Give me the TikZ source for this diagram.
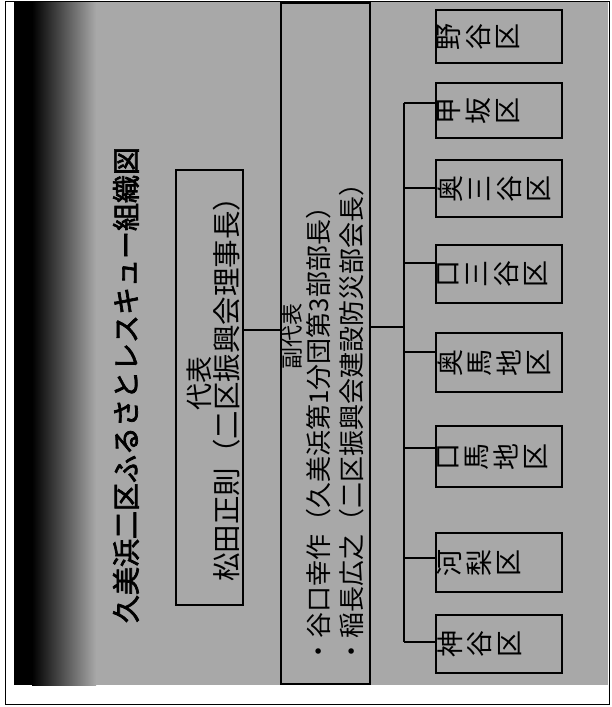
\documentclass[tikz,border=0pt]{standalone}
\usepackage{fontspec}
\newfontfamily\cjk{Noto Sans CJK JP}
\newfontfamily\cjkb[FakeBold=2.5]{Noto Sans CJK JP}
\definecolor{bg}{RGB}{168,168,168}
\begin{document}
\begin{tikzpicture}[x=1pt,y=-1pt,
  bx/.style={draw=black, line width=1.3pt, inner sep=0pt},
  ln/.style={draw=black, line width=1.3pt},
  rt/.style={rotate=90, inner sep=0pt, text=black},
  dist/.style={rotate=90, anchor=north, inner sep=0pt, align=center, text=black,
    font=\cjk\fontsize{27}{29.5}\selectfont}]
\useasboundingbox (0,0) rectangle (611,707);
\fill[white] (0,0) rectangle (611,707);
\fill[bg] (14,2) rectangle (608,685);
\fill[black] (14,2) rectangle (32,685);
\shade[left color=black, right color=bg] (32,2) rectangle (96,685);
\draw[line width=1pt] (5.5,1.5) rectangle (609.5,704);

% title
\node[rt, font=\cjkb\fontsize{28}{28}\selectfont] (title) at (126,385) {久美浜二区ふるさとレスキュー組織図};

% representative
\node[bx, minimum width=67pt, minimum height=435pt] (rep) at (209.5,387.5) {};
\node[rt, font=\cjk\fontsize{27}{27}\selectfont] (repA) at (199,383) {代表};
\node[rt, font=\cjk\fontsize{28.5}{28.5}\selectfont] (repB) at (227,382) {松田正則（二区振興会理事長）};

% vice representatives
\node[bx, minimum width=89pt, minimum height=681pt] (sub) at (325.5,343.5) {};
\node[rt, font=\cjk\fontsize{22}{22}\selectfont] (subA) at (292,336) {副代表};
\node[rt, anchor=west, font=\cjk\fontsize{26}{26}\selectfont] (subB) at (319,665) {・谷口幸作（久美浜第1分団第3部部長）};
\node[rt, anchor=west, font=\cjk\fontsize{26}{26}\selectfont] (subC) at (352,665) {・稲長広之（二区振興会建設防災部会長）};

% districts
\foreach \n/\top/\bot/\txt in {1/10/63/{野\\谷\\区},2/83/138/{甲\\坂\\区},3/160/217/{奥\\三\\谷\\区},4/245/303/{口\\三\\谷\\区},5/333/392/{奥\\馬\\地\\区},6/426/487/{口\\馬\\地\\区},7/533/592/{河\\梨\\区},8/615/673/{神\\谷\\区}}{
  \node[bx, minimum width=126pt, minimum height={(\bot-\top)*1pt}] (d\n) at (499,{(\top+\bot)/2}) {};
  \node[dist] (t\n) at ([xshift=2pt]d\n.west) {\txt};
}

% connectors
\coordinate (c1) at (0,330);
\draw[ln] (rep.east |- c1) -- (sub.west |- c1);
\coordinate (bj) at (404,327);
\draw[ln] (sub.east |- bj) -- (bj);
\foreach \n/\y in {2/103,3/188,4/263,5/352,6/448,7/558,8/642}{
  \coordinate (b\n) at (404,\y);
  \draw[ln] (b\n) -- (b\n -| d\n.west);
}
\draw[ln] (b2) -- (b8);
\end{tikzpicture}
\end{document}
